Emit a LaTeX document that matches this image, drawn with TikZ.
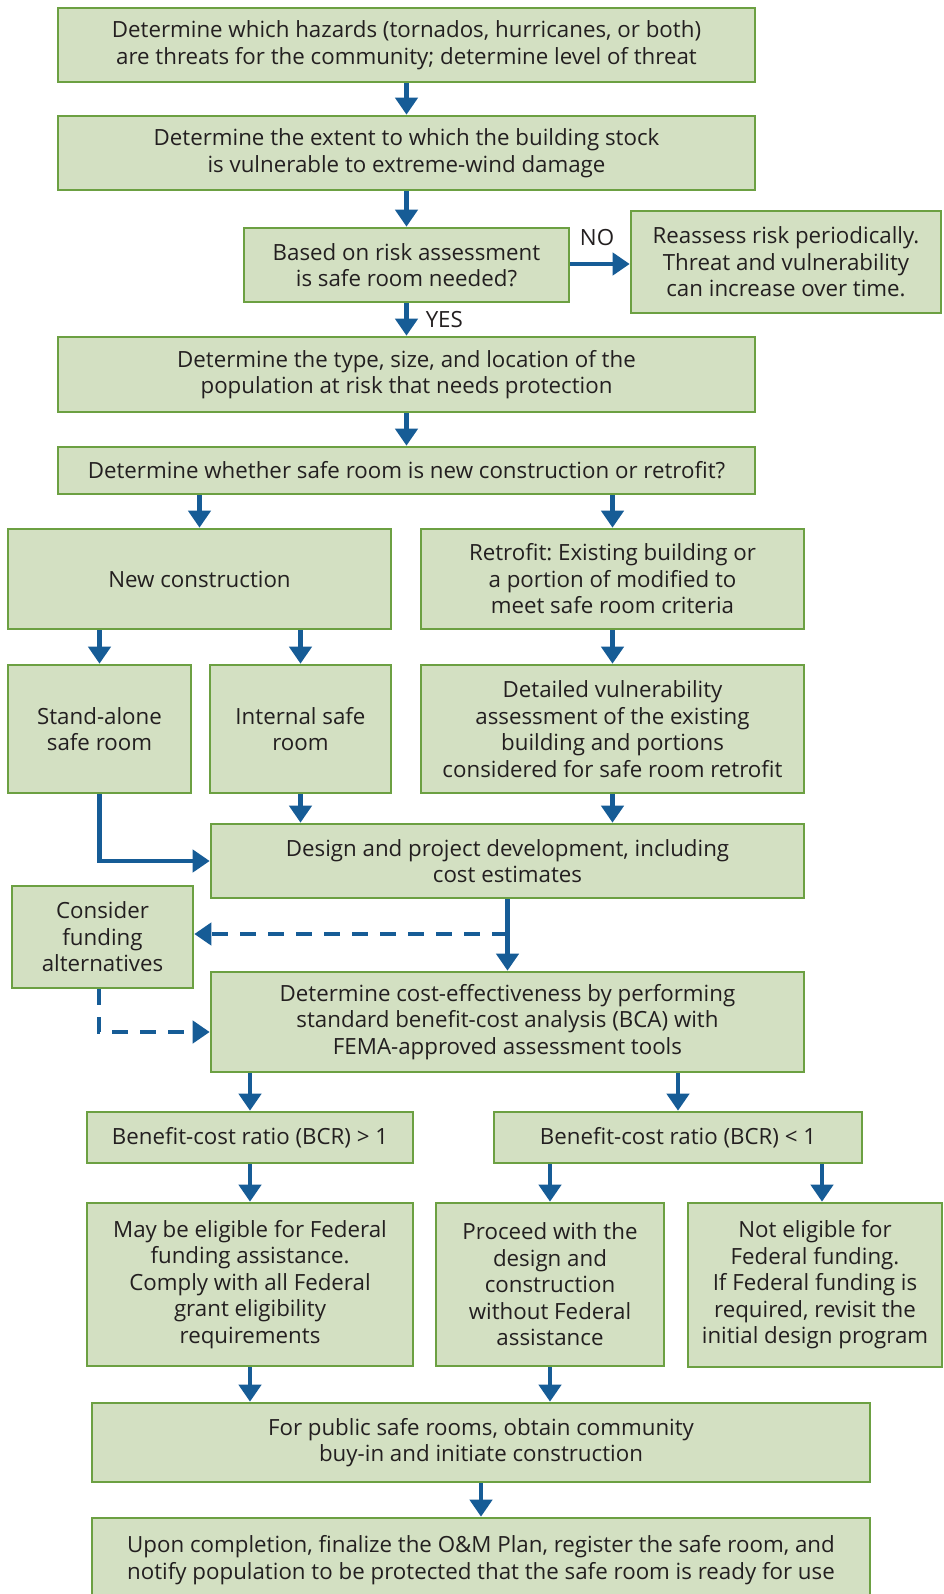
\documentclass[tikz,border=0pt]{standalone}
\usepackage{fontspec}
\setmainfont{Open Sans}
\frenchspacing
\usetikzlibrary{arrows.meta}
\definecolor{boxfill}{RGB}{211,224,194}
\definecolor{boxline}{RGB}{108,160,66}
\definecolor{arr}{RGB}{22,92,150}
\definecolor{txt}{RGB}{35,31,32}
\tikzset{
  box/.style={draw=boxline, fill=boxfill, line width=2.6pt, align=center, text=txt,
    inner sep=0pt, font=\fontsize{22.3}{26.5}\selectfont},
  flow/.style={draw=arr, line width=4.5pt, -{Triangle[length=17pt,width=22pt]}},
  dflow/.style={flow, dash pattern=on 16pt off 12pt},
  lbl/.style={text=txt, font=\fontsize{22.3}{26.5}\selectfont, inner sep=0pt}
}
\begin{document}
\begin{tikzpicture}[x=1pt,y=-1pt]
\useasboundingbox (0,0) rectangle (943,1594);
\node[box, minimum width=697, minimum height=74] (b1) at (406.5,45) {Determine which hazards (tornados, hurricanes, or both)\\are threats for the community; determine level of threat};
\node[box, minimum width=697, minimum height=74] (b2) at (406.5,153) {Determine the extent to which the building stock\\is vulnerable to extreme-wind damage};
\node[box, minimum width=325, minimum height=74] (b3) at (406.5,265) {Based on risk assessment\\is safe room needed?};
\node[box, minimum width=310, minimum height=102] (re) at (786,262) {Reassess risk periodically.\\Threat and vulnerability\\can increase over time.};
\node[box, minimum width=697, minimum height=75] (b4) at (406.5,374.5) {Determine the type, size, and location of the\\population at risk that needs protection};
\node[box, minimum width=697, minimum height=47] (b5) at (406.5,470.5) {Determine whether safe room is new construction or retrofit?};
\node[box, minimum width=383, minimum height=100] (nc) at (199.5,579) {New construction};
\node[box, minimum width=383, minimum height=100] (rf) at (612.5,579) {Retrofit: Existing building or\\a portion of modified to\\meet safe room criteria};
\node[box, minimum width=183, minimum height=128] (sa) at (99.5,729) {Stand-alone\\safe room};
\node[box, minimum width=181, minimum height=128] (is) at (300.5,729) {Internal safe\\room};
\node[box, minimum width=383, minimum height=128] (dv) at (612.5,729) {Detailed vulnerability\\assessment of the existing\\building and portions\\considered for safe room retrofit};
\node[box, minimum width=593, minimum height=74] (de) at (507.5,861) {Design and project development, including\\cost estimates};
\node[box, minimum width=181, minimum height=102] (cf) at (102.5,937) {Consider\\funding\\alternatives};
\node[box, minimum width=593, minimum height=100] (ce) at (507.5,1022) {Determine cost-effectiveness by performing\\standard benefit-cost analysis (BCA) with\\FEMA-approved assessment tools};
\node[box, minimum width=326, minimum height=51] (g1) at (250,1137.5) {Benefit-cost ratio (BCR) > 1};
\node[box, minimum width=368, minimum height=51] (l1) at (678,1137.5) {Benefit-cost ratio (BCR) < 1};
\node[box, minimum width=326, minimum height=163] (me) at (250,1284.5) {May be eligible for Federal\\funding assistance.\\Comply with all Federal\\grant eligibility\\requirements};
\node[box, minimum width=228, minimum height=163] (pr) at (550,1284.5) {Proceed with the\\design and\\construction\\without Federal\\assistance};
\node[box, minimum width=254, minimum height=164] (ne) at (815,1285) {Not eligible for\\Federal funding.\\If Federal funding is\\required, revisit the\\initial design program};
\node[box, minimum width=778, minimum height=79] (fp) at (481,1442.5) {For public safe rooms, obtain community\\buy-in and initiate construction};
\node[box, minimum width=778, minimum height=84] (up) at (481,1560) {Upon completion, finalize the O\&M Plan, register the safe room, and\\notify population to be protected that the safe room is ready for use};

\draw[flow] (b1) -- (b2);
\draw[flow] (b2) -- (b3);
\draw[flow] (b3.east |- 0,264) -- (re.west |- 0,264) node[lbl, pos=0.45, above=16pt] (no) {NO};
\draw[flow] (b3) -- (b4) node[lbl, pos=0.5, right=17pt] (yes) {YES};
\draw[flow] (b4) -- (b5);
\draw[flow] (b5.south -| nc) -- (nc);
\draw[flow] (b5.south -| rf) -- (rf);
\draw[flow] (nc.south -| sa) -- (sa);
\draw[flow] (nc.south -| is) -- (is);
\draw[flow] (rf) -- (dv);
\draw[flow] (sa.south) |- (de.west);
\draw[flow] (is.south) -- (is.south |- de.north);
\draw[flow] (dv.south) -- (dv.south |- de.north);
\draw[flow] (de) -- (ce);
\coordinate (dsplit) at (507.5,934);
\draw[dflow] (dsplit) -- (cf.east |- dsplit);
\coordinate (cfturn) at (99,1032);
\draw[dflow] (cf.south -| cfturn) -- (cfturn) -- (ce.west |- cfturn);
\draw[flow] (ce.south -| g1) -- (g1);
\draw[flow] (ce.south -| l1) -- (l1);
\draw[flow] (g1) -- (me);
\draw[flow] (l1.south -| pr) -- (pr);
\coordinate (nex) at (822,0);
\draw[flow] (l1.south -| nex) -- (ne.north -| nex);
\draw[flow] (me) -- (me |- fp.north);
\draw[flow] (pr) -- (pr |- fp.north);
\draw[flow] (fp) -- (up.north -| fp);
\end{tikzpicture}
\end{document}
